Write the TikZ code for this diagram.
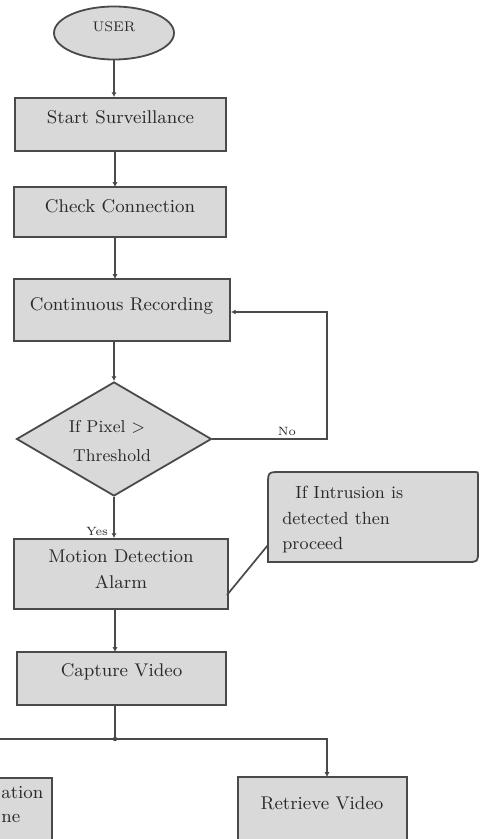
\documentclass[tikz,border=0pt]{standalone}
\usetikzlibrary{arrows.meta,shapes.geometric,calc}
\definecolor{boxfill}{HTML}{D9D9D9}
\definecolor{edge}{HTML}{4A4A4A}
\definecolor{ink}{HTML}{2A2A2A}
\begin{document}
\begin{tikzpicture}[x=0.5pt,y=-0.5pt,
  shape box/.style={draw=edge,fill=boxfill,line width=0.9pt,inner sep=0pt},
  txt/.style={text=ink,inner sep=0pt,font=\fontsize{9.2}{11}\selectfont},
  small/.style={text=ink,inner sep=0pt,font=\fontsize{6}{7}\selectfont},
  conn/.style={draw=edge,line width=0.85pt},
  arr/.style={conn,-{Latex[length=2.4pt,width=2.6pt]}}]
\useasboundingbox (0,0) rectangle (480,839);
\clip (0,0) rectangle (480,839);
\fill[white] (0,0) rectangle (480,839);

% USER
\node[shape box,ellipse,minimum width=60pt,minimum height=26.5pt] (user) at (114,33) {};
\node[txt,font=\fontsize{7}{8}\selectfont] (usert) at (114,27) {USER};

% Start Surveillance
\node[shape box,minimum width=105.5pt,minimum height=26.5pt] (s1) at (120.5,124.5) {};
\node[txt] (s1t) at (120.5,117) {Start Surveillance};

% Check Connection
\node[shape box,minimum width=106pt,minimum height=25pt] (s2) at (120,212) {};
\node[txt] (s2t) at (120,206) {Check Connection};

% Continuous Recording
\node[shape box,minimum width=108pt,minimum height=31pt] (s3) at (122,310) {};
\node[txt] (s3t) at (121.5,306) {Continuous Recording};

% Decision
\node[shape box,diamond,minimum width=97.5pt,minimum height=57pt] (d) at (114,439) {};
\node[txt,font=\fontsize{8.6}{10}\selectfont] (dt1) at (107,427) {If Pixel >};
\node[txt,font=\fontsize{8.6}{10}\selectfont] (dt2) at (112,456) {Threshold};

% Motion Detection Alarm
\node[shape box,minimum width=107pt,minimum height=35pt] (s4) at (121,574) {};
\node[txt] (s4t1) at (121,556) {Motion Detection};
\node[txt] (s4t2) at (121,582) {Alarm};

% Callout
\coordinate (cpt) at (268,545);
\coordinate (ctip) at (227,595);
\draw[conn] (ctip) -- (cpt);
\path[draw=edge,fill=boxfill,line width=0.9pt]
  (268,562) -- (268,485) .. controls (268,472) .. (281,472) -- (475,472)
  .. controls (478,472) .. (478,475) -- (478,551) .. controls (478,562) .. (467,562) -- cycle;
\node[txt,font=\fontsize{8.8}{10}\selectfont,anchor=west] (ct1) at (295,492) {If Intrusion is};
\node[txt,font=\fontsize{8.8}{10}\selectfont,anchor=west] (ct2) at (282,518) {detected then};
\node[txt,font=\fontsize{8.8}{10}\selectfont,anchor=west] (ct3) at (282,545) {proceed};

% Capture Video
\node[shape box,minimum width=104.5pt,minimum height=26.5pt] (s5) at (121.5,678.5) {};
\node[txt] (s5t) at (121.5,672) {Capture Video};

% Retrieve Video (cut at bottom)
\node[shape box,minimum width=84.5pt,minimum height=40pt] (s6) at (322.5,817) {};
\node[txt] (s6t) at (322,803) {Retrieve Video};

% Left box (cut at left and bottom)
\node[shape box,minimum width=100pt,minimum height=40pt] (s7) at (-48,818) {};
\node[txt,anchor=west] (s7t1) at (1,793) {ation};
\node[txt,anchor=west] (s7t2) at (1,818) {ne};

% Connectors
\draw[arr] (user.south) -- (user.south |- s1.north);
\draw[arr] (115,151) -- (115,187);
\draw[arr] (115,237) -- (115,279);
\draw[arr] (d.north |- s3.south) -- (d.north);
\coordinate (nocorner1) at (327,439);
\coordinate (nocorner2) at (327,312);
\draw[arr] (d.east) -- (nocorner1) -- (nocorner2) -- (s3.east |- nocorner2);
\node[small] (nolbl) at (287,431) {No};
\draw[arr] (d.south) -- (d.south |- s4.north);
\node[small] (yeslbl) at (97,531) {Yes};
\draw[arr] (115,609) -- (115,652);
\coordinate (junc) at (115,739);
\coordinate (leftend) at (-48,739);
\draw[conn] (115,705) -- (junc);
\fill[edge] (junc) circle (1.1pt);
\draw[arr] (junc) -| (327,777);
\draw[arr] (junc) -- (leftend) -- (s7.north);
\end{tikzpicture}
\end{document}
